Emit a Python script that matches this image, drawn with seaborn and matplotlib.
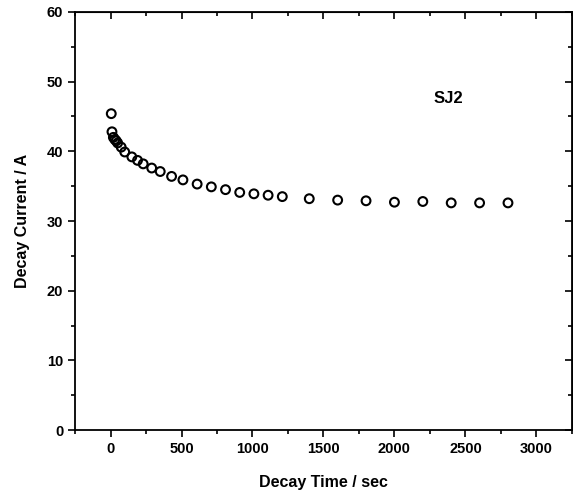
import pandas as pd
import matplotlib.pyplot as plt
from matplotlib.ticker import MultipleLocator
import seaborn as sns

sns.set_style("ticks")
plt.rcParams['font.family'] = ['Liberation Sans', 'DejaVu Sans']
for key in ['text.color', 'axes.labelcolor', 'xtick.color', 'ytick.color', 'axes.edgecolor']:
    plt.rcParams[key] = 'black'

# decay time (sec) and decay current (A)
decay_time = [5, 10, 20, 30, 40, 50, 75, 100, 150, 190, 230, 290, 350, 430,
              510, 610, 710, 810, 910, 1010, 1110, 1210,
              1400, 1600, 1800, 2000, 2200, 2400, 2600, 2800]
decay_current = [45.4, 42.8, 42.0, 41.7, 41.5, 41.2, 40.6, 39.9, 39.2, 38.7, 38.2, 37.6, 37.1, 36.4,
                 35.9, 35.3, 34.9, 34.5, 34.1, 33.9, 33.7, 33.5,
                 33.2, 33.0, 32.9, 32.7, 32.8, 32.6, 32.6, 32.6]
sample_label = "SJ2"

df = pd.DataFrame({"time": decay_time, "current": decay_current})

fig = plt.figure(figsize=(5.73, 4.95), dpi=100)
ax = fig.add_axes([0.131, 0.131, 0.867, 0.845])

sns.scatterplot(data=df, x="time", y="current", ax=ax, marker="o", s=40,
                facecolor="none", edgecolor="black", linewidth=1.5)

ax.set_xlim(-250, 3250)
ax.set_ylim(0, 60)
ax.xaxis.set_major_locator(MultipleLocator(500))
ax.xaxis.set_minor_locator(MultipleLocator(250))
ax.yaxis.set_major_locator(MultipleLocator(10))
ax.yaxis.set_minor_locator(MultipleLocator(5))

# bottom/left ticks outward, top/right inward
ax.tick_params(axis="both", which="both", top=False, right=False, direction="out", width=1.2, labelsize=10.5)
ax.tick_params(which="major", length=5)
ax.tick_params(which="minor", length=3)
for lab in ax.get_xticklabels() + ax.get_yticklabels():
    lab.set_fontweight("bold")

ax_top = ax.secondary_xaxis("top")
ax_top.xaxis.set_major_locator(MultipleLocator(500))
ax_top.xaxis.set_minor_locator(MultipleLocator(250))
ax_top.tick_params(which="both", direction="in", labeltop=False, width=1.2)
ax_top.tick_params(which="major", length=5)
ax_top.tick_params(which="minor", length=3)
ax_right = ax.secondary_yaxis("right")
ax_right.yaxis.set_major_locator(MultipleLocator(10))
ax_right.yaxis.set_minor_locator(MultipleLocator(5))
ax_right.tick_params(which="both", direction="in", labelright=False, width=1.2)
ax_right.tick_params(which="major", length=5)
ax_right.tick_params(which="minor", length=3)

for sp in ax.spines.values():
    sp.set_linewidth(1.3)

ax.set_xlabel("Decay Time / sec", fontsize=11.5, fontweight="bold", labelpad=14)
ax.set_ylabel("Decay Current / A", fontsize=11.5, fontweight="bold", labelpad=12)
ax.text(2380, 47.6, sample_label, fontsize=12, fontweight="bold", ha="center", va="center")

fig.savefig("out.png", dpi=100)
plt.close(fig)
